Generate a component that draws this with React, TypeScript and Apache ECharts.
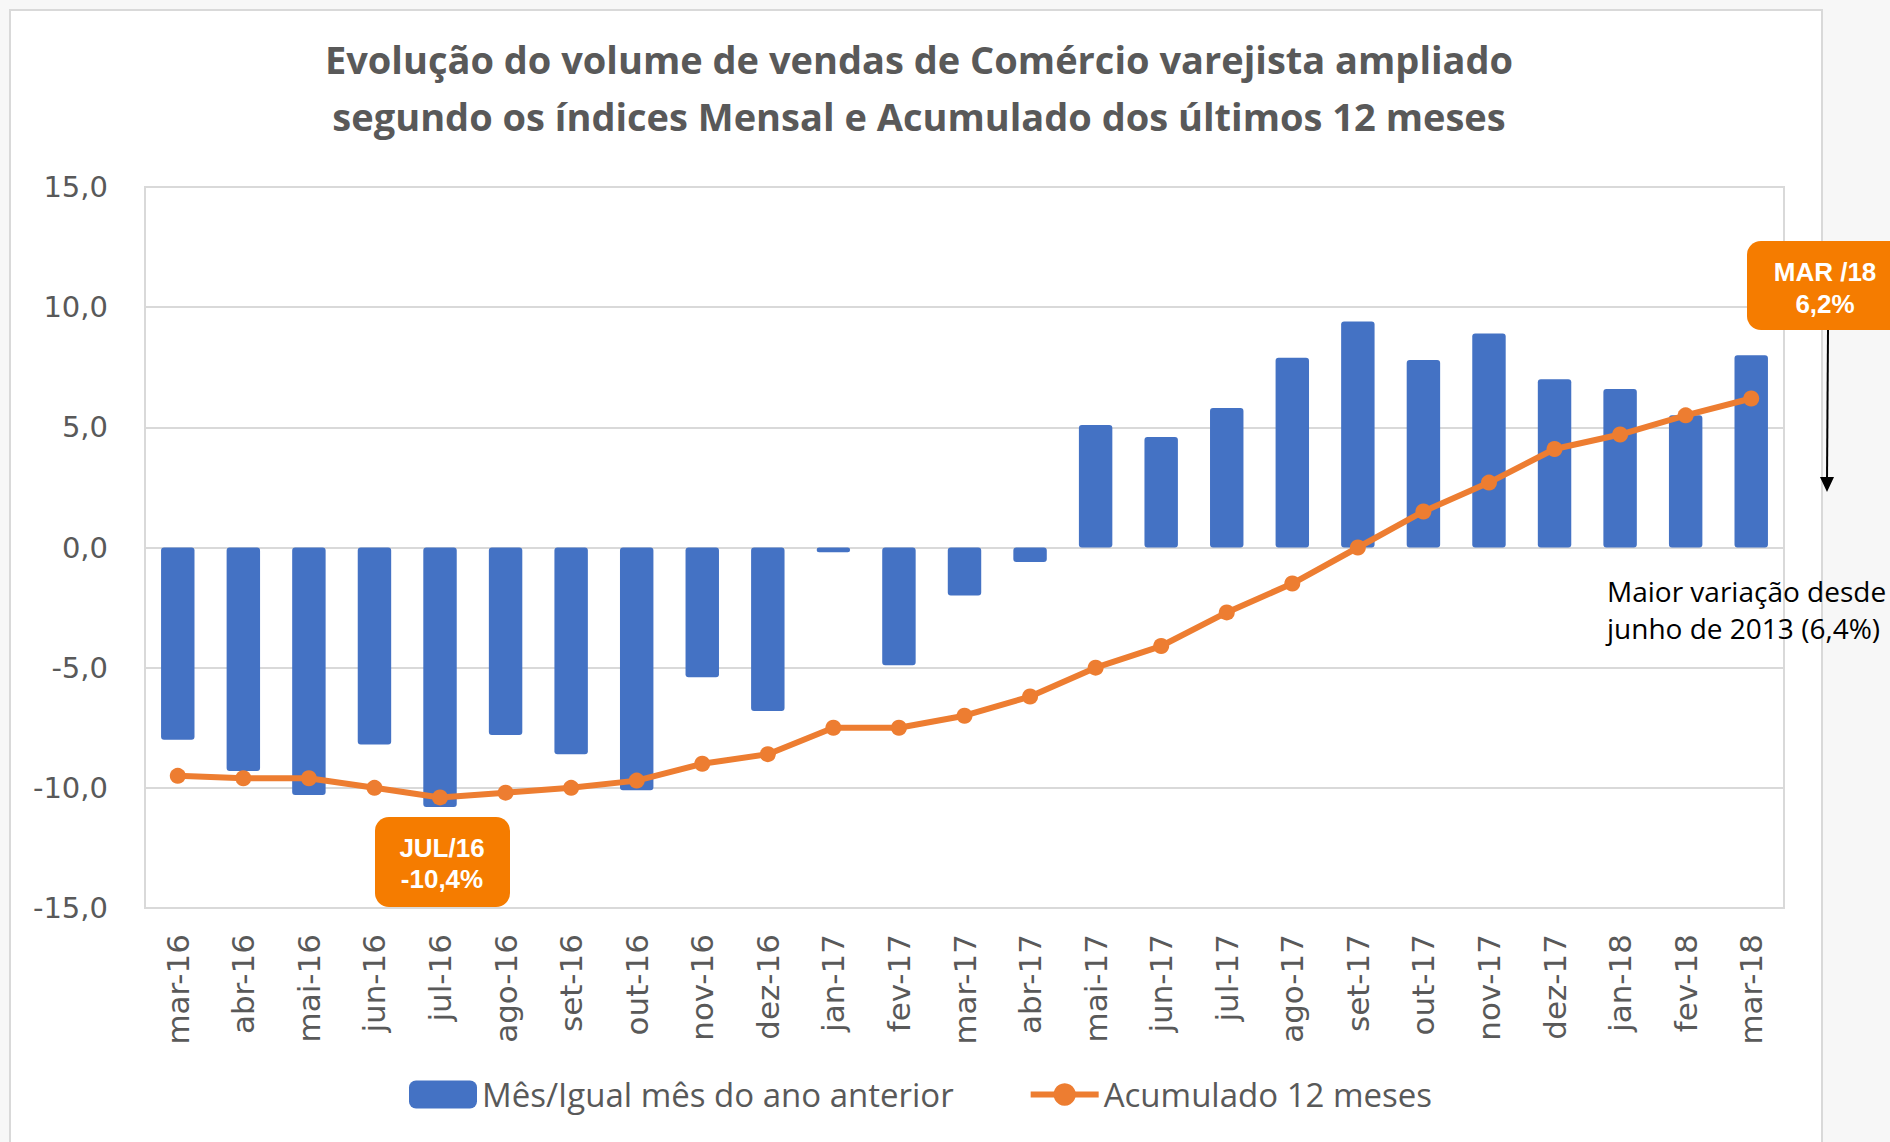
import React, { useEffect, useRef } from "react";
import * as echarts from "echarts";

const categories = [
  "mar-16", "abr-16", "mai-16", "jun-16", "jul-16", "ago-16", "set-16", "out-16",
  "nov-16", "dez-16", "jan-17", "fev-17", "mar-17", "abr-17", "mai-17", "jun-17",
  "jul-17", "ago-17", "set-17", "out-17", "nov-17", "dez-17", "jan-18", "fev-18", "mar-18",
];
const monthlyValues = [
  -8.0, -9.3, -10.3, -8.2, -10.8, -7.8, -8.6, -10.1, -5.4, -6.8, -0.2, -4.9, -2.0,
  -0.6, 5.1, 4.6, 5.8, 7.9, 9.4, 7.8, 8.9, 7.0, 6.6, 5.5, 8.0,
];
const accumValues = [
  -9.5, -9.6, -9.6, -10.0, -10.4, -10.2, -10.0, -9.7, -9.0, -8.6, -7.5, -7.5, -7.0,
  -6.2, -5.0, -4.1, -2.7, -1.5, 0.0, 1.5, 2.7, 4.1, 4.7, 5.5, 6.2,
];
const seriesNames = ["Mês/Igual mês do ano anterior", "Acumulado 12 meses"];
const titleText =
  "Evolução do volume de vendas de Comércio varejista ampliado\nsegundo os índices Mensal e Acumulado dos últimos 12 meses";
const lowLabel = "JUL/16\n-10,4%";
const highLabel = "MAR /18\n6,2%";
const noteText = "Maior variação desde\njunho de 2013 (6,4%)";

const W = 1890;
const H = 1142;

export default function App() {
  const ref = useRef<HTMLDivElement>(null);

  useEffect(() => {
    if (!ref.current) return;
    const chart = echarts.init(ref.current, undefined, { renderer: "svg" });
    const gray = "#595959";
    chart.setOption({
      animation: false,
      backgroundColor: "transparent",
      title: {
        text: titleText,
        left: 914,
        top: 25,
        textAlign: "center",
        textStyle: {
          fontFamily: "Open Sans",
          fontWeight: "bold",
          fontSize: 38,
          lineHeight: 57,
          color: gray,
        },
      },
      grid: {
        left: 145,
        right: W - 1784,
        top: 187,
        bottom: H - 908,
        show: true,
        borderColor: "#d9d9d9",
        borderWidth: 2,
        containLabel: false,
      },
      legend: {
        left: 404,
        top: 1073,
        itemWidth: 68,
        itemHeight: 28,
        itemGap: 74,
        lineStyle: { width: 6 },
        textStyle: {
          fontFamily: "Open Sans",
          fontSize: 33,
          color: gray,
        },
        data: seriesNames,
      },
      xAxis: {
        type: "category",
        data: categories,
        axisLine: { show: false },
        axisTick: { show: false },
        axisLabel: {
          rotate: 90,
          margin: 26,
          fontFamily: "DejaVu Sans",
          fontSize: 31,
          color: gray,
        },
      },
      yAxis: {
        type: "value",
        min: -15,
        max: 15,
        interval: 5,
        axisLine: { show: false },
        axisTick: { show: false },
        splitLine: { lineStyle: { color: "#d9d9d9", width: 2 } },
        axisLabel: {
          margin: 37,
          fontFamily: "DejaVu Sans",
          fontSize: 29,
          color: gray,
          formatter: (v: number) => v.toFixed(1).replace(".", ","),
        },
      },
      series: [
        {
          name: seriesNames[0],
          type: "bar",
          data: monthlyValues,
          barWidth: "51%",
          itemStyle: { color: "#4472C4", borderRadius: 3 },
        },
        {
          name: seriesNames[1],
          type: "line",
          data: accumValues,
          symbol: "circle",
          symbolSize: 16,
          lineStyle: { color: "#ED7D31", width: 6 },
          itemStyle: { color: "#ED7D31" },
          z: 3,
        },
      ],
      graphic: [
        {
          type: "rect",
          shape: { x: 375, y: 817, width: 135, height: 90, r: 14 },
          style: { fill: "#F57C00" },
          z: 10,
        },
        {
          type: "text",
          x: 442,
          y: 863,
          z: 11,
          style: {
            text: lowLabel,
            fill: "#ffffff",
            font: "bold 26px 'Liberation Sans'",
            lineHeight: 31,
            textAlign: "center",
            textVerticalAlign: "middle",
          },
        },
        {
          type: "rect",
          shape: { x: 1747, y: 241, width: 156, height: 89, r: 14 },
          style: { fill: "#F57C00" },
          z: 10,
        },
        {
          type: "text",
          x: 1825,
          y: 288,
          z: 11,
          style: {
            text: highLabel,
            fill: "#ffffff",
            font: "bold 26px 'Liberation Sans'",
            lineHeight: 32,
            textAlign: "center",
            textVerticalAlign: "middle",
          },
        },
        {
          type: "line",
          shape: { x1: 1828, y1: 330, x2: 1827, y2: 480 },
          style: { stroke: "#000000", lineWidth: 2 },
          z: 10,
        },
        {
          type: "polygon",
          shape: { points: [[1820, 477], [1834, 477], [1827, 492]] },
          style: { fill: "#000000" },
          z: 10,
        },
        {
          type: "text",
          x: 1607,
          y: 572,
          z: 10,
          style: {
            text: noteText,
            fill: "#000000",
            font: "28px 'Open Sans'",
            lineHeight: 37,
            textAlign: "left",
            textVerticalAlign: "top",
          },
        },
      ],
    });
    return () => chart.dispose();
  }, []);

  return (
    <div
      style={{
        position: "fixed",
        left: 0,
        top: 0,
        width: W,
        height: H,
        background: "#f7f7f7",
        overflow: "hidden",
      }}
    >
      <div
        style={{
          position: "absolute",
          left: 9,
          top: 9,
          width: 1810,
          height: 1150,
          background: "#ffffff",
          border: "2px solid #d9d9d9",
        }}
      />
      <div
        ref={ref}
        style={{ position: "absolute", left: 0, top: 0, width: W, height: H }}
      />
    </div>
  );
}
